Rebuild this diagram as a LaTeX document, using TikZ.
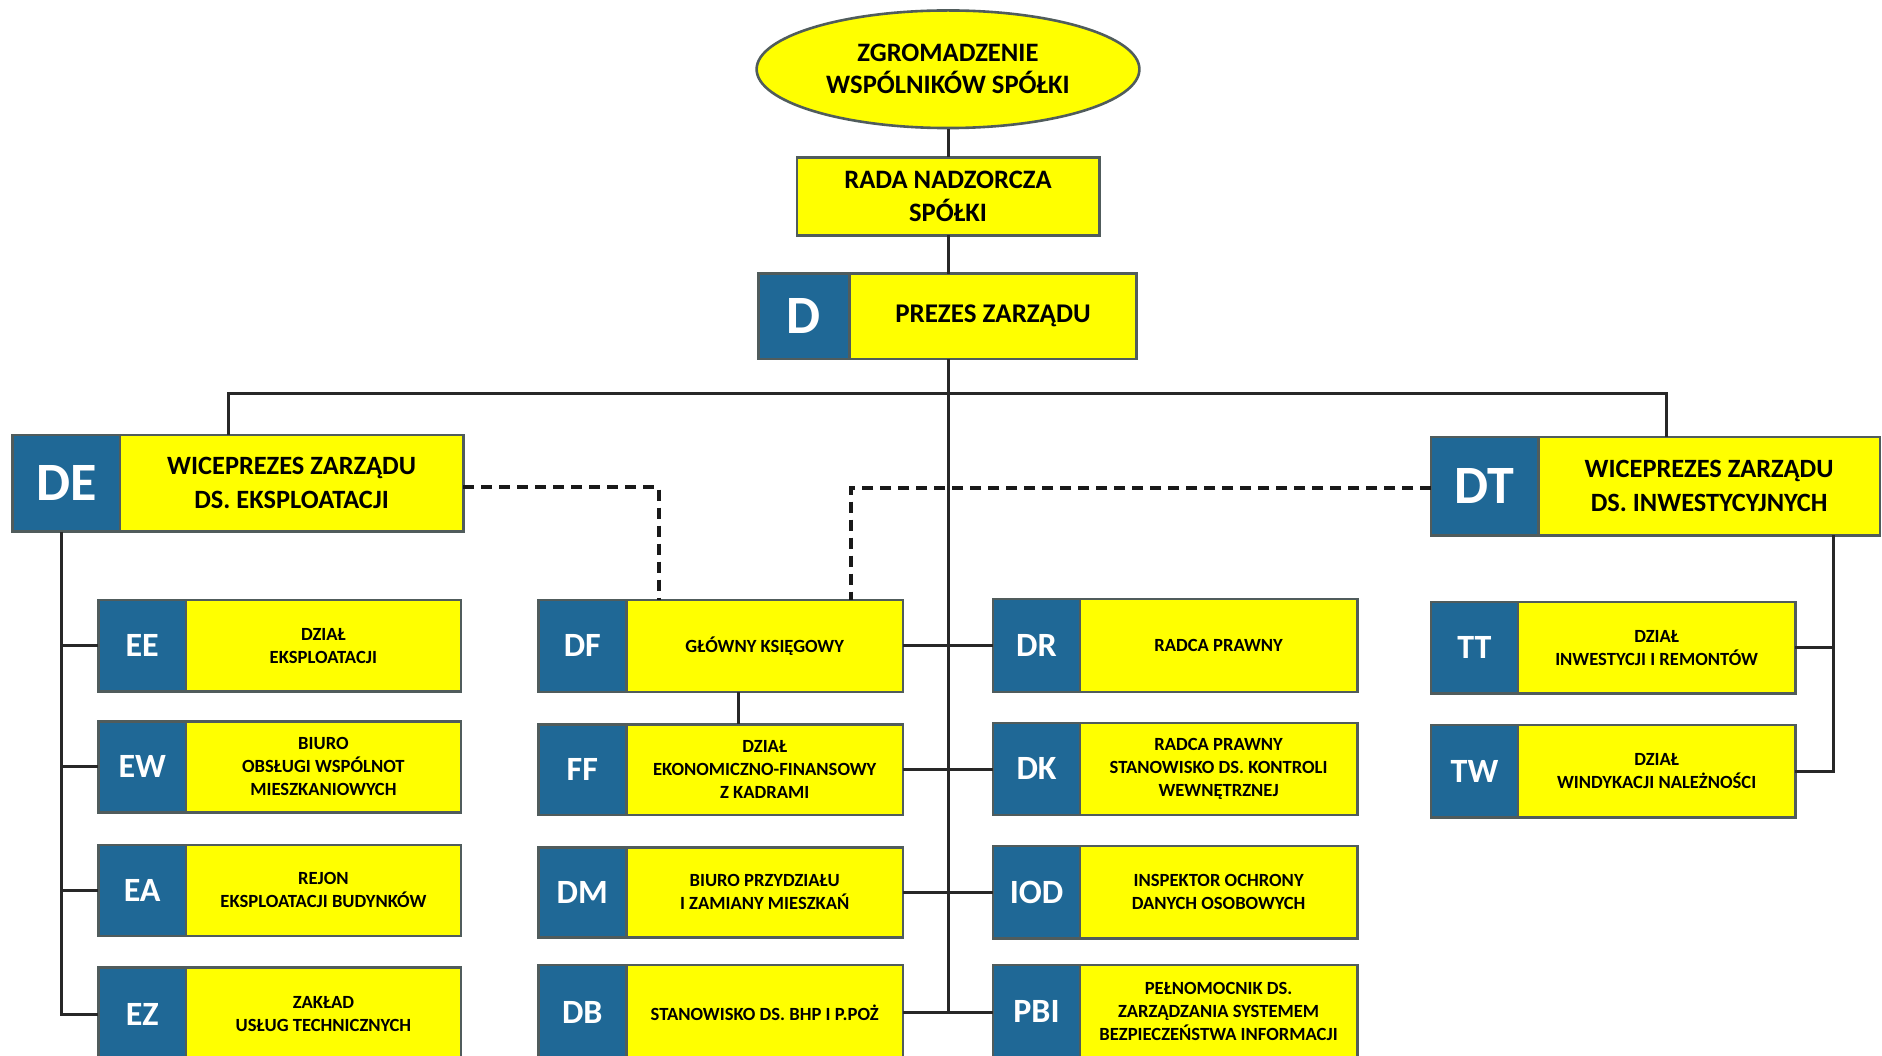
\documentclass[tikz,border=0pt]{standalone}
\usepackage{fontspec}
\setmainfont{Carlito}
\usetikzlibrary{calc,shapes.geometric}
\definecolor{ublue}{RGB}{31,104,150}
\definecolor{uyellow}{RGB}{255,255,0}
\definecolor{ubord}{RGB}{80,92,92}
\definecolor{uline}{RGB}{40,40,40}
\tikzset{
 unit/.style={draw=ubord, line width=1.3pt, inner sep=0pt, outer sep=0pt},
 codebox/.style={unit, fill=ublue, text=white},
 txtbox/.style={unit, fill=uyellow, text=black, align=center},
 codeS/.style={codebox, font=\fontsize{17}{17}\selectfont\bfseries},
 codeL/.style={codebox, font=\fontsize{27}{27}\selectfont\bfseries},
 txtS/.style={txtbox, font=\fontsize{9.3}{11.5}\selectfont\bfseries},
 txtL/.style={txtbox, font=\fontsize{13.2}{17}\selectfont\bfseries},
 conn/.style={draw=uline, line width=1.5pt},
 dashconn/.style={draw=black!90, line width=2pt, dash pattern=on 5.5pt off 3.5pt},
}
\newcommand\orgunit[9]{%
 \node[code#2, minimum width={(#4-#3)*0.6pt}, minimum height={(#7-#6)*0.6pt}] (#1c) at ({(#3+#4)/2},{(#6+#7)/2}) {#8};
 \node[txt#2, minimum width={(#5-#4)*0.6pt}, minimum height={(#7-#6)*0.6pt}] (#1) at ({(#4+#5)/2},{(#6+#7)/2}) {#9};
}
\begin{document}
\begin{tikzpicture}[x=0.6pt,y=-0.6pt]
\useasboundingbox (0,0) rectangle (1568.33,879.17);
\fill[white] (0,0) rectangle (1568.33,879.17);
\clip (0,0) rectangle (1568.33,879.17);
% coordinates for connector routing
\coordinate (busL) at (190,328);
\coordinate (busR) at (1389,328);
\coordinate (lt) at (51.5,443);
\coordinate (rt) at (1528,446);
\coordinate (dfx) at (615,0);
\coordinate (dl) at (549,406);
\coordinate (dr) at (709,406.5);
% top
\node[ellipse, draw=ubord, fill=uyellow, line width=1.3pt, inner sep=0pt,
  minimum width={319*0.6pt}, minimum height={98*0.6pt}, align=center,
  font=\fontsize{13.3}{16}\selectfont\bfseries] (zgr) at (790,57.7) {ZGROMADZENIE\\WSPÓLNIKÓW SPÓŁKI};
\node[txtbox, minimum width={252*0.6pt}, minimum height={65*0.6pt},
  font=\fontsize{13.3}{16.5}\selectfont\bfseries] (rada) at (790,163.5) {RADA NADZORCZA\\SPÓŁKI};
\orgunit{prez}{L}{632}{708}{947}{228}{299}{D}{\fontsize{13.5}{16}\selectfont PREZES ZARZĄDU}
% vice presidents
\orgunit{de}{L}{10.5}{100}{386}{362.5}{443}{DE}{WICEPREZES ZARZĄDU\\DS. EKSPLOATACJI}
\orgunit{dt}{L}{1192.5}{1282}{1566.5}{364}{446}{DT}{WICEPREZES ZARZĄDU\\DS. INWESTYCYJNYCH}
% left column
\orgunit{ee}{S}{82}{155}{384}{500}{576}{EE}{DZIAŁ\\EKSPLOATACJI}
\orgunit{ew}{S}{82}{155}{384}{601}{677}{EW}{BIURO\\OBSŁUGI WSPÓLNOT\\MIESZKANIOWYCH}
\orgunit{ea}{S}{82}{155}{384}{704}{780}{EA}{REJON\\EKSPLOATACJI BUDYNKÓW}
\orgunit{ez}{S}{82}{155}{384}{806}{884}{EZ}{ZAKŁAD\\USŁUG TECHNICZNYCH}
% middle column
\orgunit{df}{S}{448.5}{522}{752.5}{500}{576.5}{DF}{GŁÓWNY KSIĘGOWY}
\orgunit{ff}{S}{448.5}{522}{752.5}{603.5}{679}{FF}{DZIAŁ\\EKONOMICZNO-FINANSOWY\\Z KADRAMI}
\orgunit{dm}{S}{448.5}{522}{752.5}{706}{781}{DM}{BIURO PRZYDZIAŁU\\I ZAMIANY MIESZKAŃ}
\orgunit{db}{S}{448.5}{522}{752.5}{804}{884}{DB}{STANOWISKO DS. BHP I P.POŻ}
% right column
\orgunit{drp}{S}{827.5}{900}{1131}{499}{576.5}{DR}{RADCA PRAWNY}
\orgunit{dk}{S}{827.5}{900}{1131}{602.5}{679}{DK}{RADCA PRAWNY\\STANOWISKO DS. KONTROLI\\WEWNĘTRZNEJ}
\orgunit{iod}{S}{827.5}{900}{1131}{705}{782}{IOD}{INSPEKTOR OCHRONY\\DANYCH OSOBOWYCH}
\orgunit{pbi}{S}{827.5}{900}{1131}{804}{882}{PBI}{PEŁNOMOCNIK DS.\\ZARZĄDZANIA SYSTEMEM\\BEZPIECZEŃSTWA INFORMACJI}
% far right column
\orgunit{tt}{S}{1192.5}{1265}{1496}{501.5}{578}{TT}{DZIAŁ\\INWESTYCJI I REMONTÓW}
\orgunit{tw}{S}{1192.5}{1265}{1496}{604}{681}{TW}{DZIAŁ\\WINDYKACJI NALEŻNOŚCI}
% connectors
\draw[conn] (zgr.south) -- (rada.north);
\draw[conn] (rada.south) -- (rada.south |- prez.north);
\draw[conn] (rada.south |- prez.south) -- (rada.south |- pbic.west);
\draw[conn] (busL |- de.north) -- (busL) -- (busR) -- (busR |- dt.north);
\draw[conn] (lt) -- (lt |- ezc.west) -- (ezc.west);
\foreach \n in {ee,ew,ea} \draw[conn] (lt |- \n c.west) -- (\n c.west);
\draw[conn] (rt) -- (rt |- tw.east) -- (tw.east);
\draw[conn] (tt.east) -- (tt.east -| rt);
\draw[conn] (df.east) -- (df.east -| drpc.west);
\draw[conn] (ff.east) -- (ff.east -| dkc.west);
\draw[conn] (dm.east) -- (dm.east -| iodc.west);
\draw[conn] (db.east) -- (db.east -| pbic.west);
\draw[conn] (df.south -| dfx) -- (ff.north -| dfx);
\draw[dashconn] (de.east |- dl) -- (dl) -- (df.north -| dl);
\draw[dashconn] (dtc.west |- dr) -- (dr) -- (df.north -| dr);
\end{tikzpicture}
\end{document}
